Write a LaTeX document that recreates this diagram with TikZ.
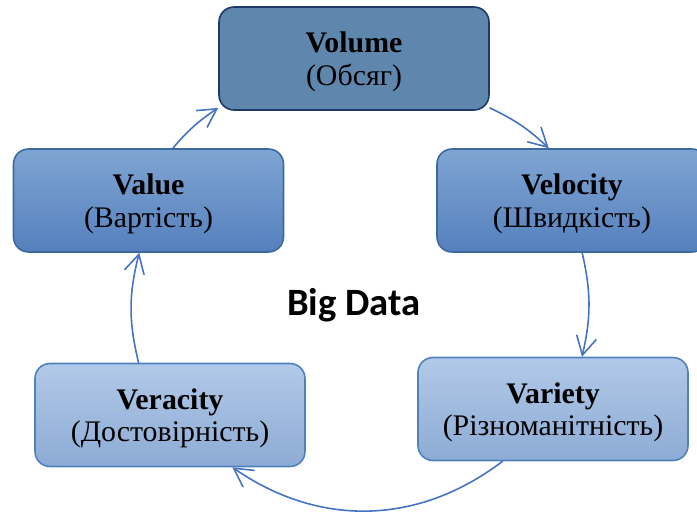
\documentclass[tikz,border=0pt]{standalone}
\usepackage{fontspec}
\setmainfont{Liberation Serif}
\newfontfamily\bigdatafont{Carlito}
\usepackage{xcolor}
\usetikzlibrary{arrows.meta}

\definecolor{volfill}{HTML}{5F87AE}
\definecolor{voledge}{HTML}{1F3A68}
\definecolor{midtop}{HTML}{7FA5D3}
\definecolor{midbot}{HTML}{5580BD}
\definecolor{midedge}{HTML}{3C6A9F}
\definecolor{lighttop}{HTML}{B2C9E8}
\definecolor{lightbot}{HTML}{8DABD5}
\definecolor{lightedge}{HTML}{4F81BD}
\definecolor{arrowblue}{HTML}{4472C4}

\begin{document}
\begin{tikzpicture}[line join = round, line cap = round,
    vbox/.style={rectangle, rounded corners=0.3cm, minimum width=5.4cm, minimum height=2.06cm,
                 align=center, line width=0.9pt, font=\fontsize{17}{18.5}\selectfont,
                 text depth=-1pt},
    cyc/.style={draw=arrowblue, line width=0.9pt, -{Straight Barb[length=10.5pt, width=11.5pt, line width=0.9pt]}}]

    \useasboundingbox (0,0) rectangle (13.94,10.3);

    % the five V's
    \node[vbox, fill=volfill, draw=voledge] (volume) at (7.08,9.13) {\textbf{Volume}\\(Обсяг)};
    \node[vbox, top color=midtop, bottom color=midbot, draw=midedge] (value) at (2.97,6.29) {\textbf{Value}\\(Вартість)};
    \node[vbox, top color=midtop, bottom color=midbot, draw=midedge] (velocity) at (11.44,6.29) {\textbf{Velocity}\\(Швидкість)};
    \node[vbox, top color=lighttop, bottom color=lightbot, draw=lightedge] (veracity) at (3.40,2.00) {\textbf{Veracity}\\(Достовірність)};
    \node[vbox, top color=lighttop, bottom color=lightbot, draw=lightedge] (variety) at (11.06,2.12) {\textbf{Variety}\\(Різноманітність)};

    % centre
    \node[font=\bigdatafont\bfseries\fontsize{22}{26}\selectfont] (bigdata) at (7.08,4.2) {Big Data};

    % cycle
    \draw[cyc] (value.65) to[bend left=8] (volume.200);
    \draw[cyc] (volume.340) to[bend left=9] (velocity.114);
    \draw[cyc] (velocity.281) to[bend left=13] (variety.61);
    \draw[cyc] (variety.226) to[bend left=36] (veracity.320);
    \draw[cyc] (veracity.121) to[bend left=14] (value.260);

\end{tikzpicture}
\end{document}
